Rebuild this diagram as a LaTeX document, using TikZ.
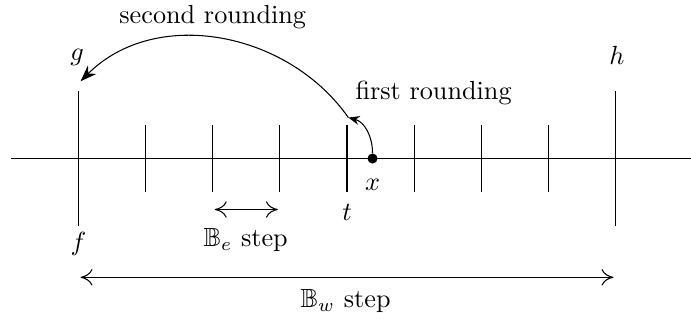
\documentclass[tikz,border=0pt]{standalone}
\usepackage{amsmath,amssymb}
\usepackage{tikz}
\usetikzlibrary{arrows.meta, positioning}

\begin{document}
\begin{tikzpicture}[x=0.9cm, y=0.9cm,
    label/.style={inner sep=1pt},
    tick/.style={draw=black, line width=0.4pt},
    dot/.style={circle, fill=black, inner sep=0pt, minimum size=1.35mm},
    round/.style={-{Stealth[length=2.2mm, width=1.6mm]}, draw=black},
    span/.style={{To[length=1.6mm, width=2.2mm]}-{To[length=1.6mm, width=2.2mm]}, draw=black, line width=0.4pt}
]
    \useasboundingbox (-1.1695,-2.4055) rectangle (9.1245,2.3615);

    % number line and the grid points
    \draw[tick] (-1.0,0) -- (9.2,0);
    \draw[tick] (0,-1) -- (0,1);
    \draw[tick] (1,-0.5) -- (1,0.5);
    \draw[tick] (2,-0.5) -- (2,0.5);
    \draw[tick] (3,-0.5) -- (3,0.5);
    \draw[tick] (4,-0.5) -- (4,0.5);
    \draw[tick] (5,-0.5) -- (5,0.5);
    \draw[tick] (6,-0.5) -- (6,0.5);
    \draw[tick] (7,-0.5) -- (7,0.5);
    \draw[tick] (8,-1) -- (8,1);

    \node[dot] (xdot) at (4.38,0) {};
    \node[label] (xlab) at (4.38,-0.40) {$x$};
    \node[label] (tlab) at (4.0,-0.80) {$t$};
    \node[label] (flab) at (0,-1.27) {$f$};
    \node[label] (glab) at (-0.02,1.5) {$g$};
    \node[label] (hlab) at (8.02,1.53) {$h$};

    \coordinate (ttop) at (4.02,0.61);
    \coordinate (gtip) at (0.03,1.15);

    \node[label] (first) at (5.29,0.97) {first rounding};
    \node[label] (second) at (2.0,2.1) {second rounding};

    \draw[round, -{Stealth[length=1.5mm, width=1.2mm]}] (xdot.north) to[out=90, in=-15] (ttop);
    \draw[round] (ttop) to[out=125, in=45] (gtip);

    % step widths
    \coordinate (ea) at (2.03,-0.76);
    \coordinate (eb) at (2.97,-0.76);
    \draw[span] (ea) -- (eb);
    \node[label] (estep) at (2.49,-1.22) {$\mathbb{B}_e$ step};

    \coordinate (wa) at (0.03,-1.77);
    \coordinate (wb) at (7.97,-1.77);
    \draw[span] (wa) -- (wb);
    \node[label] (wstep) at (3.98,-2.13) {$\mathbb{B}_w$ step};
\end{tikzpicture}
\end{document}
